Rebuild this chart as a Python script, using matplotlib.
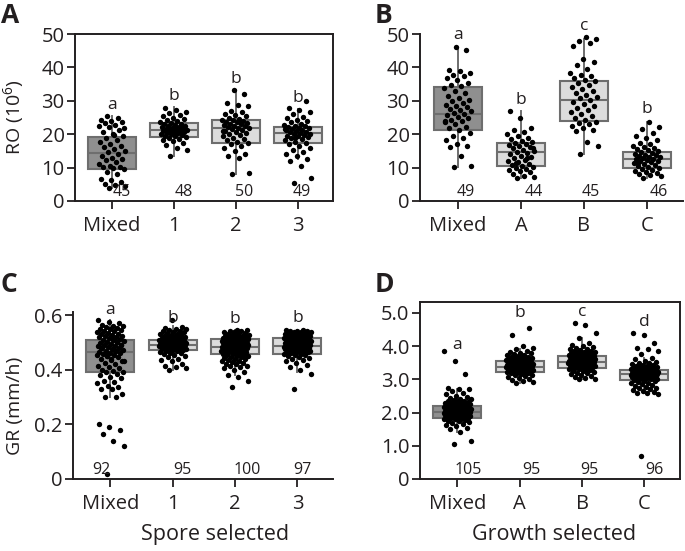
import matplotlib
matplotlib.use('Agg')
import matplotlib.pyplot as plt
import numpy as np

plt.rcParams['font.family'] = ['Open Sans', 'DejaVu Sans']
plt.rcParams['mathtext.default'] = 'regular'

# ---------------- data ----------------
cats_spore = ['Mixed', '1', '2', '3']
cats_growth = ['Mixed', 'A', 'B', 'C']

# Panel A : RO (10^6), spore selected
A_mixed = [4.0,4.4,4.8,5.2,5.6,6.2,6.6,8.2,8.8,9.6,9.9,10.1,10.3,10.6,11.1,11.8,12.2,12.5,13.0,13.6,
           14.1,14.6,15.0,15.6,16.1,16.6,17.2,17.8,18.3,18.9,19.4,20.1,20.6,21.3,22.2,22.6,22.9,23.3,23.7,24.1,
           24.4,24.8,25.3,22.0,19.8]
A_1 = [13.6,15.2,16.0,16.8,17.4,17.9,18.3,18.7,19.0,19.2,19.4,19.6,19.8,20.0,20.1,20.3,20.5,20.6,20.8,21.0,
       21.1,21.2,21.4,21.5,21.6,21.8,22.0,22.1,22.3,22.4,22.6,22.8,23.0,23.2,23.4,23.6,23.9,24.2,24.5,24.9,
       25.3,25.8,26.2,26.7,27.3,27.9,21.9,20.4]
A_2 = [8.0,8.4,12.8,13.4,14.2,15.0,15.8,16.4,17.0,17.4,17.8,18.2,18.6,19.0,19.4,19.8,20.2,20.5,20.8,21.1,
       21.4,21.6,21.8,22.0,22.2,22.4,22.6,22.8,23.0,23.2,23.4,23.6,23.8,24.0,24.2,24.4,24.7,25.0,25.3,25.6,
       26.0,26.5,27.0,28.3,28.8,29.3,32.0,33.2,21.0,23.9]
A_3 = [5.3,7.0,10.5,12.0,12.6,13.4,14.2,14.8,15.4,16.0,16.5,17.0,17.4,17.8,18.2,18.5,18.8,19.1,19.4,19.6,
       19.8,20.0,20.2,20.4,20.6,20.8,21.0,21.2,21.4,21.6,21.8,22.0,22.2,22.4,22.6,22.9,23.2,23.6,24.0,24.4,
       24.8,25.2,26.0,26.6,27.2,27.8,29.9,19.0,21.5]
A_q1 = [9.5, 19.1, 17.5, 17.3]
A_med = [14.5, 21.3, 21.8, 20.3]
A_q3 = [19.1, 23.3, 24.3, 22.3]
A_lo = [4.0, 13.5, 8.0, 12.5]
A_hi = [25.5, 28.0, 33.2, 27.5]
A_letters = ['a', 'b', 'b', 'b']
A_n = [45, 48, 50, 49]

# Panel B : RO (10^6), growth selected
B_mixed = [10.3,10.6,13.6,16.2,16.6,17.2,18.4,18.9,19.5,20.5,21.2,21.8,22.3,23.0,23.6,24.1,24.4,24.8,25.2,25.6,
           26.0,26.4,26.8,27.2,27.6,28.0,28.4,28.8,29.3,29.8,30.3,30.9,31.5,32.2,33.0,33.7,34.3,34.8,35.4,36.3,
           36.9,37.3,37.6,38.3,38.9,39.3,45.2,46.1,24.0]
B_A = [6.8,7.2,7.6,8.2,8.6,9.0,9.3,9.6,10.0,10.3,10.6,10.9,11.2,11.6,12.0,12.4,12.8,13.2,13.6,14.0,
       14.4,14.8,15.1,15.4,15.8,16.2,16.5,16.8,17.0,17.3,17.6,18.0,18.5,19.0,19.5,20.0,20.6,21.2,21.8,25.0,
       26.9,13.0,11.4,16.0]
B_B = [14.0,16.6,17.6,20.9,21.4,22.0,22.6,23.0,23.4,23.8,24.2,24.8,25.4,26.0,26.6,27.2,27.8,28.4,29.0,29.6,
       30.2,30.7,31.2,31.8,32.4,33.0,33.6,34.2,34.8,35.3,35.8,36.3,36.8,37.3,37.8,38.4,39.5,40.6,41.6,42.6,
       46.3,47.2,47.8,48.6,49.0]
B_C = [7.0,7.4,7.8,8.2,8.5,8.8,9.1,9.4,9.7,10.0,10.2,10.5,10.8,11.0,11.3,11.6,11.9,12.1,12.3,12.5,
       12.7,12.9,13.1,13.3,13.5,13.7,13.9,14.1,14.3,14.6,14.9,15.2,15.5,15.8,16.2,16.6,17.0,17.5,18.2,18.8,
       19.5,20.3,21.6,22.3,23.7,11.4]
B_q1 = [21.3, 10.6, 24.0, 10.0]
B_med = [26.1, 14.8, 30.2, 12.5]
B_q3 = [34.0, 17.5, 36.0, 14.8]
B_lo = [10.3, 6.8, 14.0, 7.0]
B_hi = [45.6, 26.9, 48.6, 23.7]
B_letters = ['a', 'b', 'c', 'b']
B_n = [49, 44, 45, 46]

# Panel C : GR (mm/h), spore selected
C_mixed = [0.02,0.12,0.14,0.165,0.178,0.19,0.20,
           0.30,0.30,0.31,0.33,0.33,0.335,0.34,0.35,0.355,0.36,0.37,0.375,
           0.38,0.385,0.39,0.392,0.395,0.40,0.405,0.41,0.415,0.42,0.425,0.43,0.435,0.44,0.445,
           0.45,0.452,0.455,0.458,0.46,0.462,0.465,0.467,0.47,0.472,0.475,0.478,0.48,0.482,0.485,
           0.488,0.49,0.492,0.495,0.497,0.50,0.502,0.505,0.507,0.51,0.512,0.515,0.518,0.52,0.522,
           0.525,0.528,0.53,0.532,0.535,0.538,0.54,0.542,0.545,0.548,0.55,0.552,0.555,0.558,0.56,
           0.565,0.57,0.575,0.58,0.47,0.46,0.49,0.44,0.48,0.50,0.45,0.43,0.52]
C_1 = [0.40,0.405,0.408,0.412,0.42,0.43,0.435,0.44,0.445,0.45,
       0.453,0.456,0.46,0.462,0.465,0.467,0.469,0.471,0.473,0.474,
       0.475,0.476,0.477,0.478,0.479,0.48,0.481,0.482,0.483,0.484,
       0.485,0.486,0.487,0.487,0.488,0.488,0.489,0.489,0.49,0.49,
       0.49,0.491,0.491,0.492,0.492,0.493,0.493,0.494,0.494,0.495,
       0.495,0.496,0.496,0.497,0.497,0.498,0.498,0.499,0.5,0.5,
       0.501,0.502,0.503,0.504,0.505,0.506,0.507,0.508,0.509,0.51,
       0.511,0.512,0.513,0.514,0.515,0.517,0.519,0.52,0.522,0.524,
       0.526,0.528,0.53,0.532,0.534,0.536,0.538,0.54,0.542,0.545,
       0.548,0.55,0.553,0.556,0.58]
C_2 = [0.335,0.36,0.372,0.38,0.392,0.40,0.405,0.408,0.412,0.415,
       0.42,0.422,0.425,0.428,0.43,0.433,0.436,0.438,0.44,0.442,
       0.445,0.447,0.449,0.451,0.453,0.455,0.457,0.459,0.461,0.463,
       0.465,0.466,0.467,0.468,0.469,0.47,0.471,0.472,0.473,0.474,
       0.475,0.476,0.477,0.478,0.479,0.48,0.481,0.482,0.483,0.484,
       0.485,0.486,0.487,0.488,0.489,0.49,0.491,0.492,0.493,0.494,
       0.495,0.496,0.497,0.498,0.499,0.5,0.501,0.502,0.503,0.504,
       0.505,0.506,0.507,0.508,0.509,0.51,0.511,0.512,0.513,0.514,
       0.515,0.516,0.517,0.518,0.52,0.521,0.522,0.523,0.525,0.526,
       0.528,0.53,0.532,0.534,0.536,0.538,0.54,0.542,0.544,0.546]
C_3 = [0.33,0.385,0.40,0.41,0.418,0.425,0.43,0.435,0.44,0.443,
       0.446,0.449,0.452,0.455,0.457,0.459,0.461,0.463,0.465,0.466,
       0.468,0.469,0.47,0.471,0.472,0.473,0.474,0.475,0.476,0.477,
       0.478,0.479,0.48,0.481,0.482,0.483,0.484,0.485,0.486,0.487,
       0.488,0.489,0.49,0.491,0.492,0.493,0.494,0.495,0.496,0.497,
       0.498,0.499,0.5,0.501,0.502,0.503,0.504,0.505,0.506,0.507,
       0.508,0.509,0.51,0.511,0.512,0.513,0.514,0.515,0.516,0.517,
       0.518,0.519,0.52,0.521,0.522,0.523,0.524,0.525,0.526,0.527,
       0.528,0.529,0.53,0.531,0.532,0.533,0.534,0.535,0.536,0.537,
       0.538,0.539,0.54,0.541,0.542,0.544,0.546]
C_q1 = [0.393, 0.472, 0.457, 0.457]
C_med = [0.466, 0.490, 0.484, 0.487]
C_q3 = [0.509, 0.509, 0.512, 0.515]
C_lo = [0.30, 0.40, 0.38, 0.39]
C_hi = [0.58, 0.56, 0.545, 0.545]
C_letters = ['a', 'b', 'b', 'b']
C_n = [92, 95, 100, 97]

# Panel D : GR (mm/h), growth selected
D_mixed = [1.05,1.15,1.42,1.5,1.55,1.6,1.63,1.66,1.69,1.72,
           1.74,1.76,1.78,1.8,1.81,1.82,1.83,1.84,1.85,1.86,
           1.87,1.88,1.89,1.9,1.91,1.92,1.93,1.94,1.95,1.96,
           1.97,1.97,1.98,1.98,1.99,1.99,2.0,2.0,2.01,2.01,
           2.02,2.02,2.03,2.03,2.04,2.04,2.05,2.05,2.06,2.06,
           2.07,2.07,2.08,2.08,2.09,2.09,2.1,2.1,2.11,2.11,
           2.12,2.12,2.13,2.13,2.14,2.14,2.15,2.15,2.16,2.17,
           2.18,2.19,2.2,2.21,2.22,2.23,2.24,2.25,2.26,2.27,
           2.28,2.29,2.3,2.31,2.32,2.33,2.34,2.35,2.36,2.38,
           2.4,2.42,2.45,2.48,2.5,2.55,2.6,2.65,2.7,2.72,
           2.75,3.15,3.55,3.85,1.95]
D_A = [2.9,2.93,2.96,2.99,3.02,3.05,3.08,3.1,3.12,3.14,
       3.16,3.18,3.19,3.2,3.21,3.22,3.23,3.24,3.25,3.26,
       3.27,3.28,3.29,3.3,3.3,3.31,3.31,3.32,3.32,3.33,
       3.33,3.34,3.34,3.35,3.35,3.36,3.36,3.37,3.37,3.38,
       3.38,3.39,3.39,3.4,3.4,3.41,3.41,3.42,3.42,3.43,
       3.43,3.44,3.44,3.45,3.45,3.46,3.46,3.47,3.47,3.48,
       3.48,3.49,3.5,3.51,3.52,3.53,3.54,3.55,3.56,3.57,
       3.58,3.59,3.6,3.61,3.62,3.63,3.64,3.65,3.66,3.67,
       3.68,3.7,3.72,3.74,3.76,3.78,3.8,3.83,3.86,3.9,
       3.95,4.0,4.35,4.55,3.38]
D_B = [3.0,3.02,3.05,3.08,3.1,3.13,3.15,3.18,3.2,3.22,
       3.24,3.26,3.28,3.3,3.31,3.32,3.33,3.34,3.35,3.36,
       3.37,3.38,3.39,3.4,3.41,3.42,3.43,3.44,3.45,3.46,
       3.47,3.47,3.48,3.48,3.49,3.49,3.5,3.5,3.51,3.51,
       3.52,3.52,3.53,3.53,3.54,3.54,3.55,3.55,3.56,3.56,
       3.57,3.57,3.58,3.58,3.59,3.6,3.61,3.62,3.63,3.64,
       3.65,3.66,3.67,3.68,3.69,3.7,3.71,3.72,3.73,3.74,
       3.75,3.76,3.77,3.78,3.79,3.8,3.81,3.82,3.83,3.84,
       3.86,3.88,3.9,3.92,3.95,3.98,4.0,4.05,4.1,4.25,
       4.4,4.65,4.7,3.5,3.6]
D_C = [0.7,2.55,2.58,2.6,2.63,2.65,2.68,2.7,2.73,2.75,
       2.78,2.8,2.83,2.85,2.88,2.9,2.92,2.94,2.96,2.98,
       3.0,3.01,3.02,3.03,3.04,3.05,3.06,3.07,3.08,3.09,
       3.1,3.1,3.11,3.11,3.12,3.12,3.13,3.13,3.14,3.14,
       3.15,3.15,3.16,3.16,3.17,3.17,3.18,3.18,3.19,3.19,
       3.2,3.2,3.21,3.21,3.22,3.22,3.23,3.23,3.24,3.24,
       3.25,3.25,3.26,3.26,3.27,3.27,3.28,3.28,3.29,3.3,
       3.31,3.32,3.33,3.34,3.35,3.36,3.37,3.38,3.39,3.4,
       3.42,3.44,3.46,3.48,3.5,3.53,3.56,3.6,3.65,3.75,
       3.85,3.9,3.95,4.1,4.35,4.4]
D_q1 = [1.85, 3.21, 3.33, 2.98]
D_med = [2.03, 3.38, 3.53, 3.16]
D_q3 = [2.21, 3.56, 3.71, 3.28]
D_lo = [1.43, 2.90, 3.00, 2.60]
D_hi = [2.70, 3.90, 4.24, 3.65]
D_letters = ['a', 'b', 'c', 'd']
D_n = [105, 95, 95, 96]

# ---------------- style ----------------
DARK = '#8f8f8f'
LIGHT = '#dcdcdc'
EDGE = '#6e6e6e'
AXC = '#231f20'
TICK_FS = 14.5
LAB_FS = 14
XLAB_FS = 15.5
LET_FS = 12.5
N_FS = 11.5

fig = plt.figure(figsize=(6.85, 5.51), dpi=100)
W, H = 685.0, 551.0


def make_ax(l, r, t, b):
    return fig.add_axes([l / W, 1 - b / H, (r - l) / W, (b - t) / H])


def jitter(n, w=0.22):
    k = np.arange(n)
    return ((k * 0.6180339887 + 0.37) % 1.0 - 0.5) * 2 * w


def panel(ax, groups, q1, med, q3, lo, hi, letters, ns, cats, ylim,
          letter_y, n_y, n_off, boxed, yticks, yticklabels):
    stats = []
    for i in range(4):
        stats.append(dict(q1=q1[i], med=med[i], q3=q3[i], whislo=lo[i],
                          whishi=hi[i], fliers=[]))
    bp = ax.bxp(stats, positions=range(4), widths=0.77, patch_artist=True,
                showcaps=False, showfliers=False,
                boxprops=dict(edgecolor=EDGE, linewidth=1.5),
                medianprops=dict(color=EDGE, linewidth=1.5),
                whiskerprops=dict(color=EDGE, linewidth=1.4))
    for i, b in enumerate(bp['boxes']):
        b.set_facecolor(DARK if i == 0 else LIGHT)
        b.set_zorder(2)
    for i, vals in enumerate(groups):
        v = np.array(vals)
        ax.scatter(i + jitter(len(v)), v, s=15, c='black', linewidths=0,
                   zorder=3, clip_on=False)
    for i in range(4):
        ax.text(i, letter_y[i], letters[i], ha='center', va='center',
                fontsize=LET_FS, color=AXC, clip_on=False)
        ax.text(i + n_off[i], n_y, str(ns[i]), ha='center', va='center',
                fontsize=N_FS, color=AXC)
    ax.set_xlim(-0.6, 3.57)
    ax.set_ylim(*ylim)
    ax.set_xticks(range(4))
    ax.set_xticklabels(cats)
    ax.set_yticks(yticks)
    ax.set_yticklabels(yticklabels)
    ax.tick_params(direction='out', length=6, width=1.3, colors=AXC,
                   labelsize=TICK_FS, pad=1.5)
    ax.tick_params(axis='x', pad=5)
    for s in ['left', 'bottom', 'top', 'right']:
        ax.spines[s].set_linewidth(1.4)
        ax.spines[s].set_color(AXC)
    if not boxed:
        ax.spines['top'].set_visible(False)
        ax.spines['right'].set_visible(False)
    ax.set_facecolor('none')


# Panel A
axA = make_ax(75, 333, 34, 201)
panel(axA, [A_mixed, A_1, A_2, A_3], A_q1, A_med, A_q3, A_lo, A_hi, A_letters,
      A_n, cats_spore, (0, 50), [28.7, 31.5, 36.5, 30.8], 2.7,
      [0.15, 0.16, 0.13, 0.07], True, [0, 10, 20, 30, 40, 50],
      ['0', '10', '20', '30', '40', '50'])
axA.set_ylabel('RO (10$^{6}$)', fontsize=LAB_FS, color=AXC)
axA.yaxis.set_label_coords(-0.19, 0.5)

# Panel B
axB = make_ax(420, 683, 34, 201)
panel(axB, [B_mixed, B_A, B_B, B_C], B_q1, B_med, B_q3, B_lo, B_hi, B_letters,
      B_n, cats_growth, (0, 50), [49.7, 30.2, 52.3, 27.5], 2.7,
      [0.13, 0.21, 0.11, 0.18], False, [0, 10, 20, 30, 40, 50],
      ['0', '10', '20', '30', '40', '50'])

# Panel C
axC = make_ax(73, 333, 312, 479)
panel(axC, [C_mixed, C_1, C_2, C_3], C_q1, C_med, C_q3, C_lo, C_hi, C_letters,
      C_n, cats_spore, (0, 0.611), [0.618, 0.59, 0.585, 0.588], 0.034,
      [-0.15, 0.15, 0.19, 0.08], False, [0, 0.2, 0.4, 0.6],
      ['0', '0.2', '0.4', '0.6'])
axC.set_ylabel('GR (mm/h)', fontsize=LAB_FS, color=AXC)
axC.yaxis.set_label_coords(-0.19, 0.44)
axC.set_xlabel('Spore selected', fontsize=XLAB_FS, color=AXC)
axC.xaxis.set_label_coords(0.545, -0.27)

# Panel D
axD = make_ax(420, 680, 302, 479)
panel(axD, [D_mixed, D_A, D_B, D_C], D_q1, D_med, D_q3, D_lo, D_hi, D_letters,
      D_n, cats_growth, (0, 5.33), [4.04, 4.99, 5.04, 4.74], 0.27,
      [0.18, 0.18, 0.11, 0.16], True, [0, 1, 2, 3, 4, 5],
      ['0', '1.0', '2.0', '3.0', '4.0', '5.0'])
axD.set_xlabel('Growth selected', fontsize=XLAB_FS, color=AXC)
axD.xaxis.set_label_coords(0.515, -0.255)

# panel letters
for lab, x, y in [('A', 1, 2), ('B', 375, 2), ('C', 1, 271), ('D', 375, 271)]:
    fig.text(x / W, 1 - y / H, lab, fontsize=19, fontweight='bold',
             va='top', ha='left', color=AXC)

fig.savefig('out.png', dpi=100)
